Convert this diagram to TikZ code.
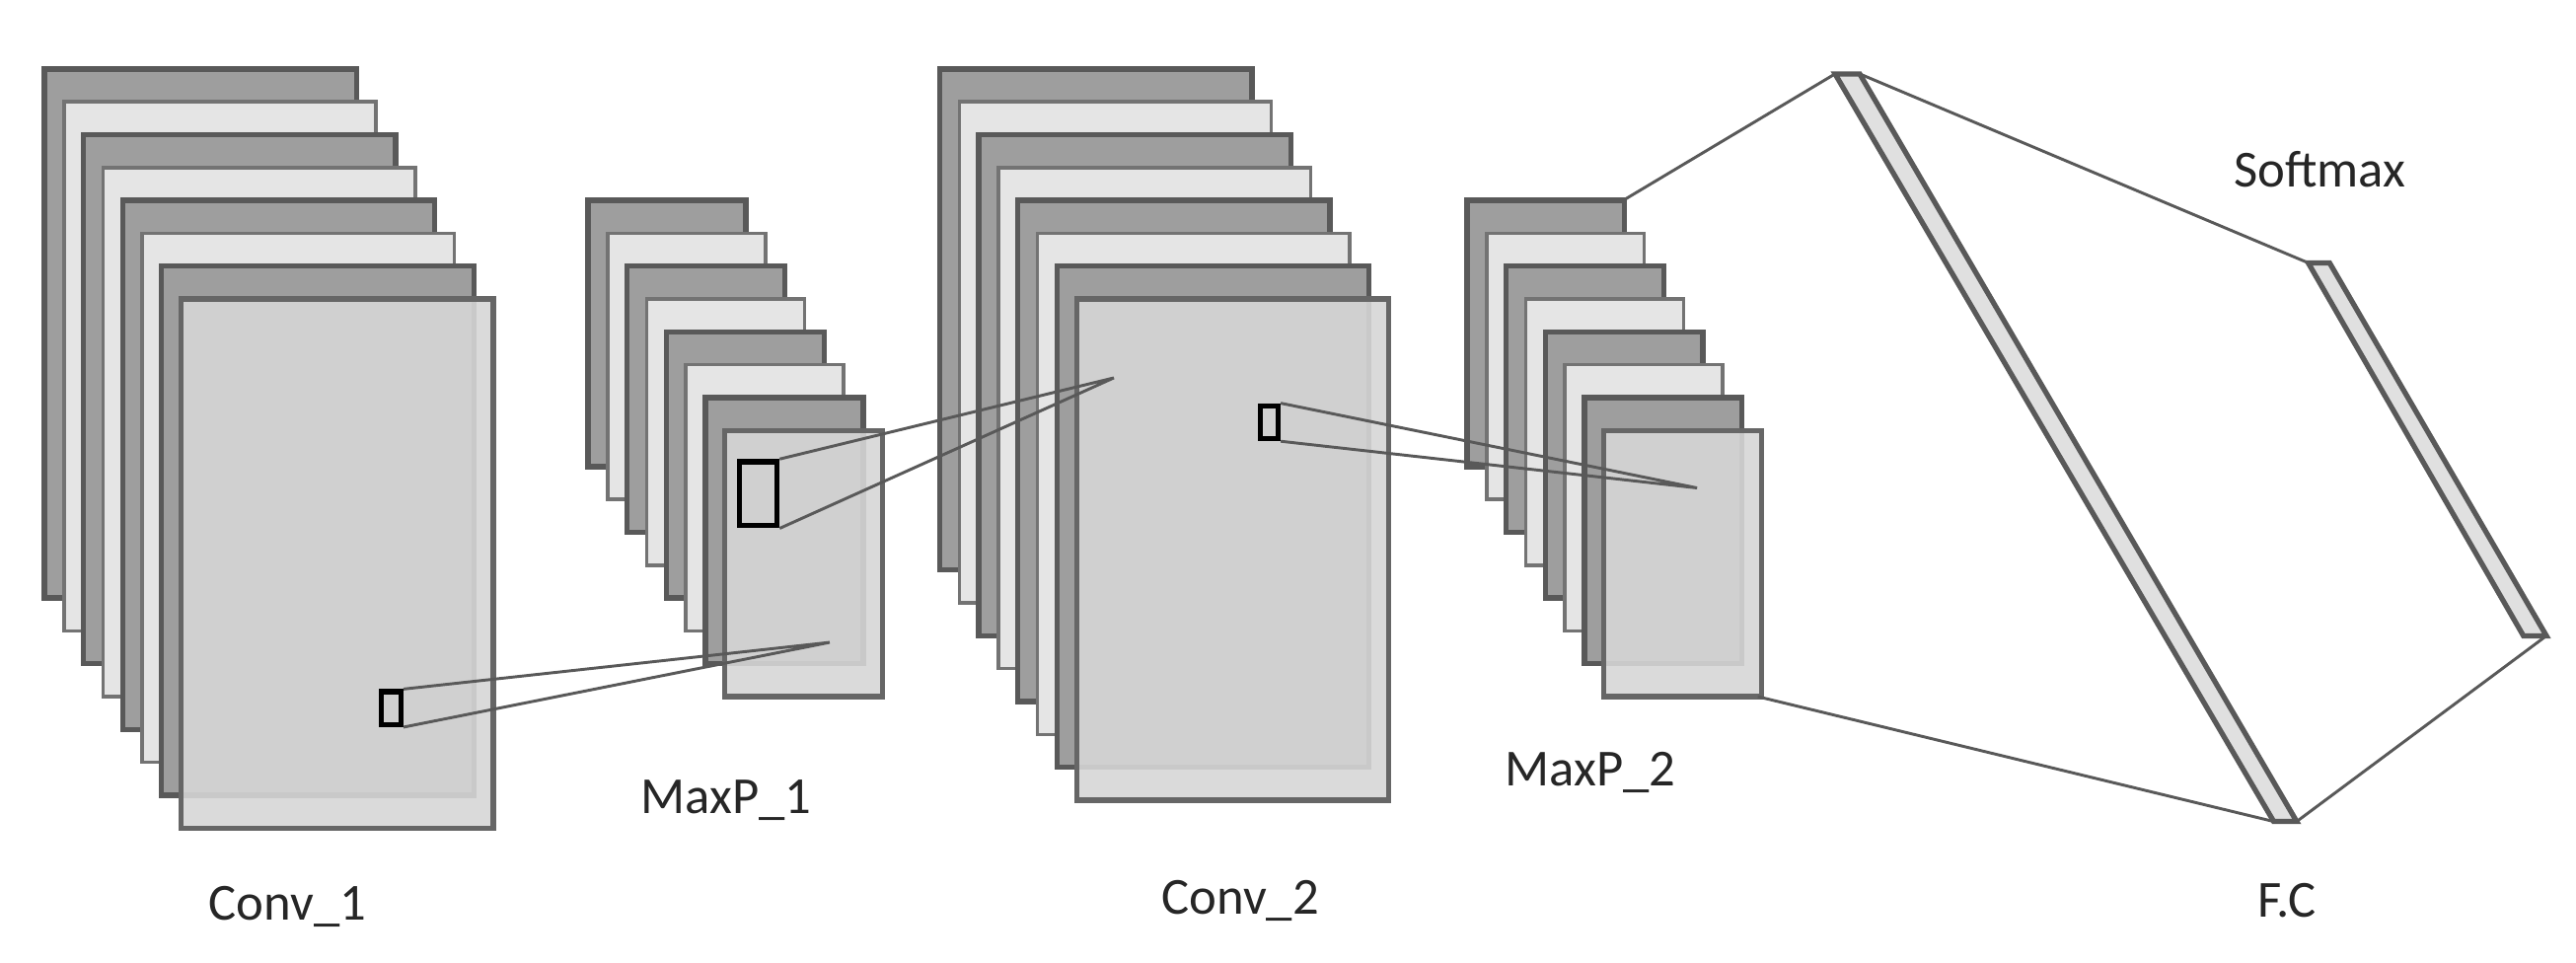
\documentclass[tikz,border=0pt]{standalone}
\usepackage{fontspec}
\setmainfont{Carlito}
\begin{document}
\begin{tikzpicture}[x=0.01cm,y=-0.01cm,
  dk/.style={fill=black!38,draw=black!65,line width=0.9pt},
  lt/.style={fill=black!10,draw=black!55,line width=0.6pt},
  fr/.style={fill=black!16,draw=black!60,line width=0.9pt},
  ln/.style={draw=black!65,line width=0.5pt},
  lab/.style={font=\fontsize{9}{11}\selectfont,text=black!85}]
\useasboundingbox (0,0) rectangle (1568,586);
\foreach \x/\y/\w/\h in {27/42/190/322, 358/122/96/162, 572/42/190/305, 893/122/96/162}{
  \foreach \i in {0,...,6}{
    \pgfmathparse{mod(\i,2)==0?"dk":"lt"}\edef\st{\pgfmathresult}
    \path[\st] (\x+11.9*\i,\y+20*\i) rectangle ++(\w,\h);
  }
  \path[fr,fill opacity=0.9] (\x+83.3,\y+140) rectangle ++(\w,\h);
}
\node[draw=black,line width=0.9pt,minimum width=0.12cm,minimum height=0.2cm,inner sep=0] (s1) at (238,431) {};
\coordinate (t1) at (505,391);
\draw[ln] (s1.north east) -- (t1) -- (s1.south east);
\node[draw=black,line width=0.9pt,minimum width=0.23cm,minimum height=0.39cm,inner sep=0] (s2) at (461.5,300.5) {};
\coordinate (t2) at (678,230);
\draw[ln] (s2.north east) -- (t2) -- (s2.south east);
\node[draw=black,line width=0.9pt,minimum width=0.11cm,minimum height=0.2cm,inner sep=0] (s3) at (772.5,257) {};
\coordinate (t3) at (1033,297);
\draw[ln] (s3.north east) -- (t3) -- (s3.south east);
\coordinate (fa) at (1117,45); \coordinate (fb) at (1132,45);
\coordinate (fc) at (1398,500); \coordinate (fd) at (1384,500);
\filldraw[fill=black!12,draw=black!65,line width=0.9pt] (fa)--(fb)--(fc)--(fd)--cycle;
\coordinate (sa) at (1405,160); \coordinate (sb) at (1418,160);
\coordinate (sc) at (1550,387); \coordinate (sd) at (1536,387);
\filldraw[fill=black!12,draw=black!65,line width=0.9pt] (sa)--(sb)--(sc)--(sd)--cycle;
\coordinate (m1) at (988,122); \coordinate (m2) at (1070,424);
\draw[ln] (m1) -- (fa); \draw[ln] (m2) -- (fd);
\draw[ln] (fb) -- (sa); \draw[ln] (fc) -- (sc);
\node[lab] (l1) at (175,552) {Conv\_1};
\node[lab] (l2) at (442,487) {MaxP\_1};
\node[lab] (l3) at (755,548) {Conv\_2};
\node[lab] (l4) at (968,470) {MaxP\_2};
\node[lab] (l5) at (1412,103) {Softmax};
\node[lab] (l6) at (1392,548) {F.C};
\end{tikzpicture}
\end{document}
